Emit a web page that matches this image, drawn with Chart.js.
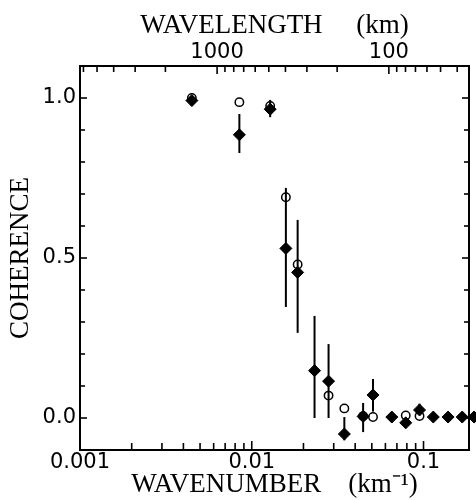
<!DOCTYPE html>
<html><head><meta charset="utf-8">
<script src="https://cdn.jsdelivr.net/npm/chart.js@4.4.1/dist/chart.umd.min.js"></script>
<style>html,body{margin:0;padding:0;background:#fff;}canvas{display:block;}</style>
</head><body>
<canvas id="c" width="476" height="500"></canvas>
<script>
// ---- data ----
const wavenumberFilled = [0.00448, 0.00847, 0.0128, 0.0158, 0.0185, 0.0232, 0.0280, 0.0346, 0.0445, 0.0508, 0.0654, 0.0788, 0.0948, 0.114, 0.139, 0.168, 0.197];
const coherenceFilled  = [0.992, 0.885, 0.965, 0.53, 0.455, 0.148, 0.115, -0.05, 0.005, 0.072, 0.003, -0.015, 0.025, 0.003, 0.003, 0.003, 0.003];
const errorLow  = [0.975, 0.828, 0.94, 0.347, 0.266, 0.0, 0.0, -0.07, -0.044, 0.02, null, -0.032, 0.01, null, null, null, null];
const errorHigh = [1.0, 0.95, 0.994, 0.719, 0.619, 0.319, 0.231, 0.003, 0.047, 0.122, null, 0.0, 0.045, null, null, null, null];
const wavenumberOpen = [0.00448, 0.00847, 0.0128, 0.0158, 0.0185, 0.0280, 0.0346, 0.0445, 0.0508, 0.0788, 0.0948];
const coherenceOpen  = [1.0, 0.987, 0.975, 0.69, 0.48, 0.07, 0.03, 0.006, 0.003, 0.008, 0.006];

// ---- axes ----
const wavenumberRange = [0.001, 0.184];
const coherenceRange = [-0.1, 1.1];
const wavelengthFactor = 2 * Math.PI; // wavelength = 2*pi / wavenumber
const wavenumberTicks = [0.001,0.002,0.003,0.004,0.005,0.006,0.007,0.008,0.009,0.01,0.02,0.03,0.04,0.05,0.06,0.07,0.08,0.09,0.1];
const wavenumberMajor = [0.001, 0.01, 0.1];
const wavenumberLabels = ['0.001', '0.01', '0.1'];
const wavelengthTicks = [6000,5000,4000,3000,2000,1000,900,800,700,600,500,400,300,200,100,90,80,70,60,50,40];
const wavelengthMajor = [1000, 100];
const wavelengthLabels = ['1000', '100'];
const coherenceTicks = [-0.1,0,0.1,0.2,0.3,0.4,0.5,0.6,0.7,0.8,0.9,1.0,1.1];
const coherenceMajor = [0, 0.5, 1.0];
const coherenceLabels = ['0.0', '0.5', '1.0'];

const near = (a, b) => Math.abs(a - b) <= 1e-9 + 1e-6 * Math.abs(b);
const majorIndex = (v, majors) => majors.findIndex(m => near(v, m));
const labelFor = (v, majors, labels) => { const i = majorIndex(v, majors); return i >= 0 ? labels[i] : ''; };

const TICK_FONT = { family: 'DejaVu Sans', size: 21 };
const TITLE_FONT = { family: 'Liberation Serif', size: 27 };

// error bar datasets built from arrays
const errorSets = [];
wavenumberFilled.forEach((k, i) => {
  if (errorLow[i] === null || errorHigh[i] === null) return;
  errorSets.push({
    data: [{ x: k, y: errorLow[i] }, { x: k, y: errorHigh[i] }],
    showLine: true, borderColor: '#000', borderWidth: 2, pointRadius: 0,
    fill: false, order: 3, clip: false, xAxisID: 'x', yAxisID: 'y'
  });
});

const innerTicks = {
  id: 'innerTicks',
  afterDraw(chart) {
    const { ctx, chartArea: a, scales } = chart;
    ctx.save();
    ctx.strokeStyle = '#000';
    ctx.lineWidth = 1.6;
    const seg = (x1, y1, x2, y2) => { ctx.beginPath(); ctx.moveTo(x1, y1); ctx.lineTo(x2, y2); ctx.stroke(); };
    wavenumberTicks.forEach(v => {
      const p = scales.x.getPixelForValue(v);
      const L = majorIndex(v, wavenumberMajor) >= 0 ? 9 : 7;
      seg(p, a.bottom, p, a.bottom - L);
    });
    wavelengthTicks.forEach(v => {
      const p = scales.xTop.getPixelForValue(v);
      if (p < a.left - 0.5 || p > a.right + 0.5) return;
      const L = majorIndex(v, wavelengthMajor) >= 0 ? 8 : 6;
      seg(p, a.top, p, a.top + L);
    });
    coherenceTicks.forEach(v => {
      const p = scales.y.getPixelForValue(v);
      const L = majorIndex(v, coherenceMajor) >= 0 ? 7 : 5;
      seg(a.left, p, a.left + L, p);
      seg(a.right, p, a.right - L, p);
    });
    ctx.restore();
  }
};

const axisBorder = { display: true, color: '#000', width: 2 };

new Chart(document.getElementById('c'), {
  type: 'scatter',
  data: {
    datasets: [
      {
        data: wavenumberOpen.map((k, i) => ({ x: k, y: coherenceOpen[i] })),
        pointStyle: 'circle', pointRadius: 4.2, borderWidth: 1.5,
        borderColor: '#000', backgroundColor: 'rgba(0,0,0,0)', order: 1, clip: false,
        xAxisID: 'x', yAxisID: 'y'
      },
      {
        data: wavenumberFilled.map((k, i) => ({ x: k, y: coherenceFilled[i] })),
        pointStyle: 'rectRot', pointRadius: 6, borderWidth: 1,
        borderColor: '#000', backgroundColor: '#000', order: 2, clip: false,
        xAxisID: 'x', yAxisID: 'y'
      },
      ...errorSets
    ]
  },
  options: {
    responsive: false,
    animation: false,
    devicePixelRatio: 1,
    layout: { padding: 0 },
    plugins: { legend: { display: false }, tooltip: { enabled: false } },
    scales: {
      x: {
        type: 'logarithmic', position: 'bottom',
        min: wavenumberRange[0], max: wavenumberRange[1],
        grid: { display: false, drawTicks: false },
        border: axisBorder,
        afterBuildTicks: s => { s.ticks = wavenumberTicks.map(v => ({ value: v })); },
        afterFit: s => { s.height = 50; },
        ticks: { autoSkip: false, maxRotation: 0, padding: 0, color: '#000', font: TICK_FONT,
                 callback: v => labelFor(v, wavenumberMajor, wavenumberLabels) },
        title: { display: true, text: 'WAVENUMBER    (km\u207B\u00B9)', color: '#000', font: TITLE_FONT, padding: { top: 0, bottom: -1 } }
      },
      xTop: {
        type: 'logarithmic', position: 'top', axis: 'x', reverse: true,
        min: wavelengthFactor / wavenumberRange[1], max: wavelengthFactor / wavenumberRange[0],
        grid: { display: false, drawTicks: false },
        border: axisBorder,
        afterBuildTicks: s => { s.ticks = wavelengthTicks.map(v => ({ value: v })); },
        afterFit: s => { s.height = 66; },
        ticks: { autoSkip: false, maxRotation: 0, padding: 1, color: '#000', font: TICK_FONT,
                 callback: v => labelFor(v, wavelengthMajor, wavelengthLabels) },
        title: { display: true, text: 'WAVELENGTH     (km)', color: '#000', font: TITLE_FONT, padding: { top: 10, bottom: 0 } }
      },
      y: {
        type: 'linear', position: 'left',
        min: coherenceRange[0], max: coherenceRange[1],
        grid: { display: false, drawTicks: false },
        border: axisBorder,
        afterBuildTicks: s => { s.ticks = coherenceTicks.map(v => ({ value: v })); },
        afterFit: s => { s.width = 80; },
        ticks: { autoSkip: false, padding: 4, color: '#000', font: TICK_FONT,
                 callback: v => labelFor(v, coherenceMajor, coherenceLabels) },
        title: { display: true, text: 'COHERENCE', color: '#000', font: TITLE_FONT, padding: { top: 5, bottom: 0 } }
      },
      yRight: {
        type: 'linear', position: 'right', axis: 'y',
        min: coherenceRange[0], max: coherenceRange[1],
        grid: { display: false, drawTicks: false },
        border: axisBorder,
        ticks: { display: false },
        afterFit: s => { s.width = 3; }
      }
    }
  },
  plugins: [innerTicks]
});
</script>
</body></html>
